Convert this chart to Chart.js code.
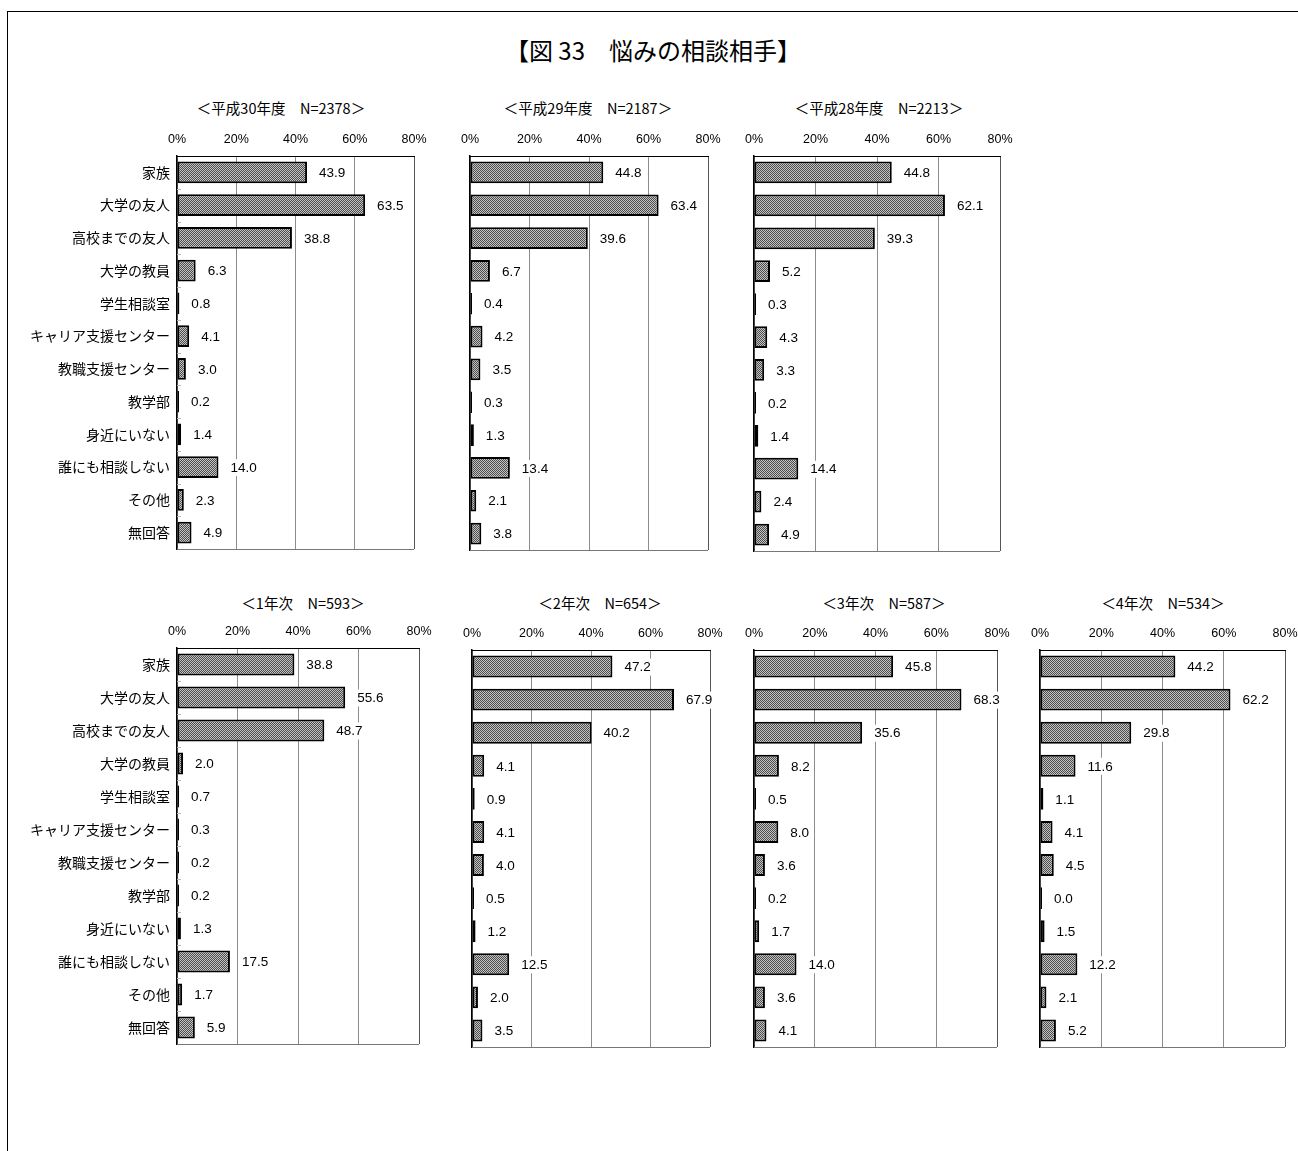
<!DOCTYPE html>
<html lang="ja">
<head>
<meta charset="utf-8">
<title>悩みの相談相手</title>
<script src="https://cdn.jsdelivr.net/npm/chart.js@4.4.1/dist/chart.umd.min.js"></script>
<style>
  html, body { margin: 0; padding: 0; background: #fff; }
  body { width: 1298px; height: 1151px; position: relative; overflow: hidden; }
  .frame { position: absolute; left: 7px; top: 11px; right: -2px; bottom: -2px;
           border-top: 1px solid #000; border-left: 1px solid #000; }
  .main-title { position: absolute; top: 34px; left: 403px; width: 500px; text-align: center;
                font: 24px "Noto Sans CJK JP", sans-serif; line-height: 32px; color: #000; }
  .panel-title { position: absolute; width: 300px; text-align: center;
                 font: 14.5px "Noto Sans CJK JP", sans-serif; line-height: 20px; color: #000; }
  canvas { position: absolute; }
</style>
</head>
<body>
<div class="frame"></div>
<div class="main-title">【図 33　悩みの相談相手】</div>
<script>
/* ---- data ---- */
const CATEGORIES = ['家族', '大学の友人', '高校までの友人', '大学の教員', '学生相談室', 'キャリア支援センター',
  '教職支援センター', '教学部', '身近にいない', '誰にも相談しない', 'その他', '無回答'];

const H30 = [43.9, 63.5, 38.8, 6.3, 0.8, 4.1, 3.0, 0.2, 1.4, 14.0, 2.3, 4.9];
const H29 = [44.8, 63.4, 39.6, 6.7, 0.4, 4.2, 3.5, 0.3, 1.3, 13.4, 2.1, 3.8];
const H28 = [44.8, 62.1, 39.3, 5.2, 0.3, 4.3, 3.3, 0.2, 1.4, 14.4, 2.4, 4.9];
const YEAR1 = [38.8, 55.6, 48.7, 2.0, 0.7, 0.3, 0.2, 0.2, 1.3, 17.5, 1.7, 5.9];
const YEAR2 = [47.2, 67.9, 40.2, 4.1, 0.9, 4.1, 4.0, 0.5, 1.2, 12.5, 2.0, 3.5];
const YEAR3 = [45.8, 68.3, 35.6, 8.2, 0.5, 8.0, 3.6, 0.2, 1.7, 14.0, 3.6, 4.1];
const YEAR4 = [44.2, 62.2, 29.8, 11.6, 1.1, 4.1, 4.5, 0.0, 1.5, 12.2, 2.1, 5.2];

const X_MIN = 0;
const X_MAX = 80;
const X_STEP = 20;

const PANEL_TITLES = ['＜平成30年度　N=2378＞', '＜平成29年度　N=2187＞', '＜平成28年度　N=2213＞',
  '＜1年次　N=593＞', '＜2年次　N=654＞', '＜3年次　N=587＞', '＜4年次　N=534＞'];
const PANEL_DATA = [H30, H29, H28, YEAR1, YEAR2, YEAR3, YEAR4];

/* ---- layout: plot area [left, top, right, bottom], title centre [x, y] ---- */
const LAYOUT = [
  { plot: [177, 156, 414, 549], title: [281, 108], labels: true },
  { plot: [470, 156, 708, 550], title: [588, 108], labels: false },
  { plot: [754, 156, 1000, 551], title: [879, 108], labels: false },
  { plot: [177, 648, 419, 1044], title: [303, 603], labels: true },
  { plot: [472, 650, 710, 1047], title: [600, 603], labels: false },
  { plot: [754, 650, 997, 1047], title: [884, 603], labels: false },
  { plot: [1040, 650, 1285, 1047], title: [1163, 603], labels: false },
];

const LABEL_W = 170;
const EMPTY_W = 20;
const AXIS_H = 30;
const PAD_R = 22;
const PAD_B = 16;

/* ---- plugins ---- */
const valueLabels = {
  id: 'valueLabels',
  afterDatasetsDraw(chart) {
    const ctx = chart.ctx;
    const meta = chart.getDatasetMeta(0);
    const values = chart.data.datasets[0].data;
    ctx.save();
    ctx.font = '13.5px "Liberation Sans", Arial, sans-serif';
    ctx.textBaseline = 'middle';
    meta.data.forEach((bar, i) => {
      const txt = values[i].toFixed(1);
      const x = bar.x + 12;
      const w = ctx.measureText(txt).width;
      ctx.fillStyle = '#fff';
      ctx.fillRect(x - 3, bar.y - 8, w + 6, 17);
      ctx.fillStyle = '#000';
      ctx.fillText(txt, x, bar.y + 1);
    });
    ctx.restore();
  },
};

// bottom edge of the plot box (right edge comes from the 80% gridline), plus inner category ticks
const plotFrame = {
  id: 'plotFrame',
  beforeDatasetsDraw(chart, args, opts) {
    const { ctx, chartArea } = chart;
    const yScale = chart.scales.y;
    ctx.save();
    ctx.strokeStyle = '#777';
    ctx.lineWidth = 1;
    ctx.beginPath();
    ctx.moveTo(chartArea.left, Math.round(chartArea.bottom) + 0.5);
    ctx.lineTo(chartArea.right, Math.round(chartArea.bottom) + 0.5);
    ctx.stroke();
    if (opts.innerTicks) {
      ctx.strokeStyle = '#bbb';
      ctx.beginPath();
      for (let i = 1; i < CATEGORIES.length; i++) {
        const y = Math.round((yScale.getPixelForTick(i - 1) + yScale.getPixelForTick(i)) / 2) + 0.5;
        ctx.moveTo(chartArea.left, y);
        ctx.lineTo(chartArea.left + 4, y);
      }
      ctx.stroke();
    }
    ctx.restore();
  },
};

function makePattern(ctx) {
  const c = document.createElement('canvas');
  c.width = 2;
  c.height = 2;
  const g = c.getContext('2d');
  g.fillStyle = '#c4c4c4';
  g.fillRect(0, 0, 2, 2);
  g.fillStyle = '#4c4c4c';
  g.fillRect(0, 0, 1, 1);
  g.fillRect(1, 1, 1, 1);
  return ctx.createPattern(c, 'repeat');
}

function buildPanel(i) {
  const lay = LAYOUT[i];
  const [l, t, r, b] = lay.plot;
  const yW = lay.labels ? LABEL_W : EMPTY_W;

  const title = document.createElement('div');
  title.className = 'panel-title';
  title.textContent = PANEL_TITLES[i];
  title.style.left = (lay.title[0] - 150) + 'px';
  title.style.top = (lay.title[1] - 10) + 'px';
  document.body.appendChild(title);

  const canvas = document.createElement('canvas');
  const cl = l - yW;
  const ct = t - AXIS_H;
  canvas.width = r - cl + PAD_R;
  canvas.height = b - ct + PAD_B;
  canvas.style.left = cl + 'px';
  canvas.style.top = ct + 'px';
  document.body.appendChild(canvas);

  const ctx = canvas.getContext('2d');

  new Chart(ctx, {
    type: 'bar',
    data: {
      labels: CATEGORIES,
      datasets: [{
        data: PANEL_DATA[i],
        backgroundColor: makePattern(ctx),
        borderColor: '#000',
        borderWidth: 2,
        borderSkipped: false,
        minBarLength: 2,
        barPercentage: 0.66,
        categoryPercentage: 1,
      }],
    },
    options: {
      indexAxis: 'y',
      responsive: false,
      animation: false,
      devicePixelRatio: 1,
      layout: { padding: { left: 0, top: 0, right: PAD_R, bottom: PAD_B } },
      plugins: {
        legend: { display: false },
        tooltip: { enabled: false },
        title: { display: false },
        plotFrame: { innerTicks: lay.labels },
      },
      scales: {
        x: {
          type: 'linear',
          position: 'top',
          min: X_MIN,
          max: X_MAX,
          afterFit: (s) => { s.height = AXIS_H; },
          border: { display: true, color: '#000', width: 1 },
          grid: {
            drawTicks: false,
            color: (c) => (c.tick && c.tick.value === X_MAX ? '#555' : '#8c8c8c'),
            lineWidth: 1,
          },
          ticks: {
            stepSize: X_STEP,
            padding: 9,
            color: '#000',
            font: { family: '"Liberation Sans", Arial, sans-serif', size: 12.5 },
            callback: (v) => v + '%',
            maxRotation: 0,
          },
        },
        y: {
          type: 'category',
          afterFit: (s) => { s.width = yW; },
          border: { display: true, color: '#000', width: 1.5 },
          grid: { display: false, drawTicks: false },
          ticks: {
            display: lay.labels,
            padding: 7,
            color: '#000',
            font: { family: '"Noto Sans CJK JP", sans-serif', size: 14 },
          },
        },
      },
    },
    plugins: [plotFrame, valueLabels],
  });
}

LAYOUT.forEach((_, i) => buildPanel(i));
</script>
</body>
</html>
